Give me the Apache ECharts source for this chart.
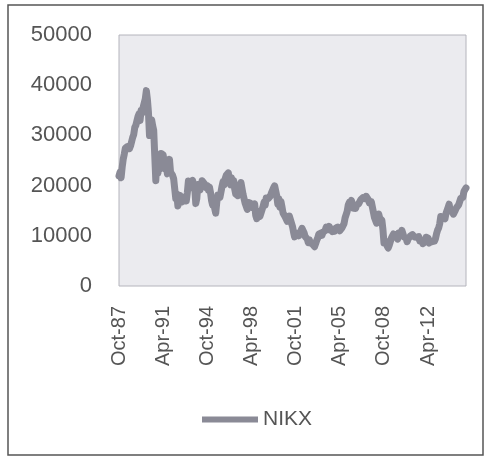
<!DOCTYPE html>
<html>
<head>
<meta charset="utf-8">
<script src="https://cdn.jsdelivr.net/npm/echarts@6/dist/echarts.min.js"></script>
<style>
html,body{margin:0;padding:0;background:#fff;}
#c{width:486px;height:457px;}
</style>
</head>
<body>
<div id="c"></div>
<script>
// Monthly NIKX values, Oct-87 .. Apr-15
var startYear = 1987, startMonth = 9; // October (0-based)
var y1987 = [21910, 22686, 21564];
var y1988 = [23622, 25242, 26260, 27434, 27417, 27769, 28092, 27366, 27924, 28292, 29579, 30159];
var y1989 = [31581, 31985, 32839, 33713, 34266, 32948, 34954, 34431, 35636, 35549, 37269, 38916];
var y1990 = [37189, 34591, 29980, 29584, 33131, 31940, 31036, 25978, 20984, 25194, 22455, 23849];
var y1991 = [23293, 26409, 26292, 26111, 25790, 23291, 24121, 22336, 23916, 25222, 22688, 22984];
var y1992 = [22023, 21339, 19346, 17391, 18348, 15952, 15910, 18061, 17399, 16767, 17684, 16925];
var y1993 = [17024, 16953, 18591, 20919, 20552, 19590, 20380, 21027, 20106, 19704, 16408, 17417];
var y1994 = [20229, 19997, 19112, 19725, 20974, 20644, 20449, 20629, 19564, 19990, 19076, 19723];
var y1995 = [18650, 17054, 16140, 16807, 15437, 14517, 16678, 18117, 17913, 17655, 18744, 19868];
var y1996 = [20813, 20125, 21407, 22041, 21956, 22531, 20693, 20167, 21556, 20467, 21020, 19361];
var y1997 = [18330, 18557, 18003, 19151, 20069, 20605, 20331, 18229, 17888, 16459, 16636, 15259];
var y1998 = [16628, 16831, 16527, 15641, 15671, 15830, 16379, 14108, 13406, 13565, 14884, 13842];
var y1999 = [14499, 14368, 15837, 16702, 16112, 17530, 17862, 17437, 17606, 17943, 18558, 18934];
var y2000 = [19540, 19960, 20337, 17974, 16332, 17411, 15728, 16861, 15747, 14540, 14649, 13786];
var y2001 = [13843, 12884, 12999, 13934, 13262, 12969, 11861, 10714, 9775, 10366, 10697, 10543];
var y2002 = [9997, 10588, 11025, 11493, 11764, 10622, 9878, 9619, 9383, 8640, 9216, 8579];
var y2003 = [8340, 8363, 7973, 7831, 8425, 9083, 9563, 10344, 10219, 10560, 10101, 10677];
var y2004 = [10784, 11042, 11715, 11762, 11236, 11858, 11326, 11082, 10824, 10771, 10899, 11489];
var y2005 = [11388, 11741, 11669, 11009, 11277, 11584, 11900, 12414, 13574, 13607, 14872, 16111];
var y2006 = [16650, 16205, 17060, 16906, 15467, 15505, 15457, 16141, 16128, 16399, 16274, 17226];
var y2007 = [17383, 17604, 17288, 17400, 17876, 18138, 17249, 16569, 16786, 16738, 15681, 15308];
var y2008 = [13592, 13603, 12526, 13850, 14339, 13481, 13377, 13073, 11260, 8577, 8512, 8860];
var y2009 = [7994, 7568, 8110, 8828, 9523, 9958, 10357, 10493, 10133, 10035, 9346, 10546];
var y2010 = [10198, 10126, 11090, 11057, 9769, 9383, 9537, 8824, 9369, 9202, 9937, 10229];
var y2011 = [10238, 10624, 9755, 9850, 9694, 9816, 9833, 8955, 8700, 8988, 8435, 8455];
var y2012 = [8803, 9723, 10084, 9521, 8543, 9007, 8695, 8840, 8870, 8928, 9446, 10395];
var y2013 = [11139, 11559, 12398, 13861, 13775, 13677, 13668, 13389, 14456, 14328, 15662, 16291];
var y2014 = [14915, 14841, 14828, 14304, 14632, 15162, 15621, 15425, 16174, 16414, 17460, 17451];
var y2015 = [17674, 18798, 19207, 19520];
var nikx = [].concat(y1987, y1988, y1989, y1990, y1991, y1992, y1993, y1994, y1995, y1996,
  y1997, y1998, y1999, y2000, y2001, y2002, y2003, y2004, y2005, y2006, y2007, y2008,
  y2009, y2010, y2011, y2012, y2013, y2014, y2015);
var monthNames = ['Jan','Feb','Mar','Apr','May','Jun','Jul','Aug','Sep','Oct','Nov','Dec'];
var categories = [];
for (var i = 0; i < nikx.length; i++) {
  var m = startMonth + i;
  var yr = startYear + Math.floor(m / 12);
  categories.push(monthNames[m % 12] + '-' + String(yr).slice(2));
}
var yTicks = {min: 0, max: 50000, interval: 10000};
var seriesName = 'NIKX';

var chart = echarts.init(document.getElementById('c'), null, {renderer: 'canvas'});
chart.setOption({
  animation: false,
  backgroundColor: '#ffffff',
  textStyle: {fontFamily: 'Liberation Sans'},
  graphic: [{
    type: 'rect', shape: {x: 8, y: 5, width: 475, height: 450},
    style: {fill: 'none', stroke: '#555', lineWidth: 1.5}, silent: true
  }],
  grid: {
    left: 119, right: 20, top: 35, bottom: 171,
    show: true, backgroundColor: '#ebebef', borderColor: '#b4b4bc', borderWidth: 1
  },
  legend: {
    data: [seriesName],
    left: 197, top: 404,
    icon: 'rect', itemWidth: 56, itemHeight: 6, itemGap: 4,
    textStyle: {fontSize: 21, color: '#555', fontFamily: 'Liberation Sans'}
  },
  xAxis: {
    type: 'category',
    data: categories,
    boundaryGap: false,
    axisLine: {show: false},
    axisTick: {show: false},
    axisLabel: {
      interval: 41, rotate: 90, margin: 20,
      fontSize: 20, color: '#555', fontFamily: 'Liberation Sans'
    },
    splitLine: {show: false}
  },
  yAxis: {
    type: 'value',
    min: yTicks.min, max: yTicks.max, interval: yTicks.interval,
    axisLine: {show: false},
    axisTick: {show: false},
    splitLine: {show: false},
    axisLabel: {
      margin: 27, fontSize: 22, color: '#555', fontFamily: 'Liberation Sans',
      formatter: function (v) { return String(v); }
    }
  },
  series: [{
    name: seriesName,
    type: 'line',
    data: nikx,
    symbol: 'none',
    lineStyle: {color: '#8a8a96', width: 7, join: 'round', cap: 'round'},
    itemStyle: {color: '#8a8a96'}
  }]
});
</script>
</body>
</html>
